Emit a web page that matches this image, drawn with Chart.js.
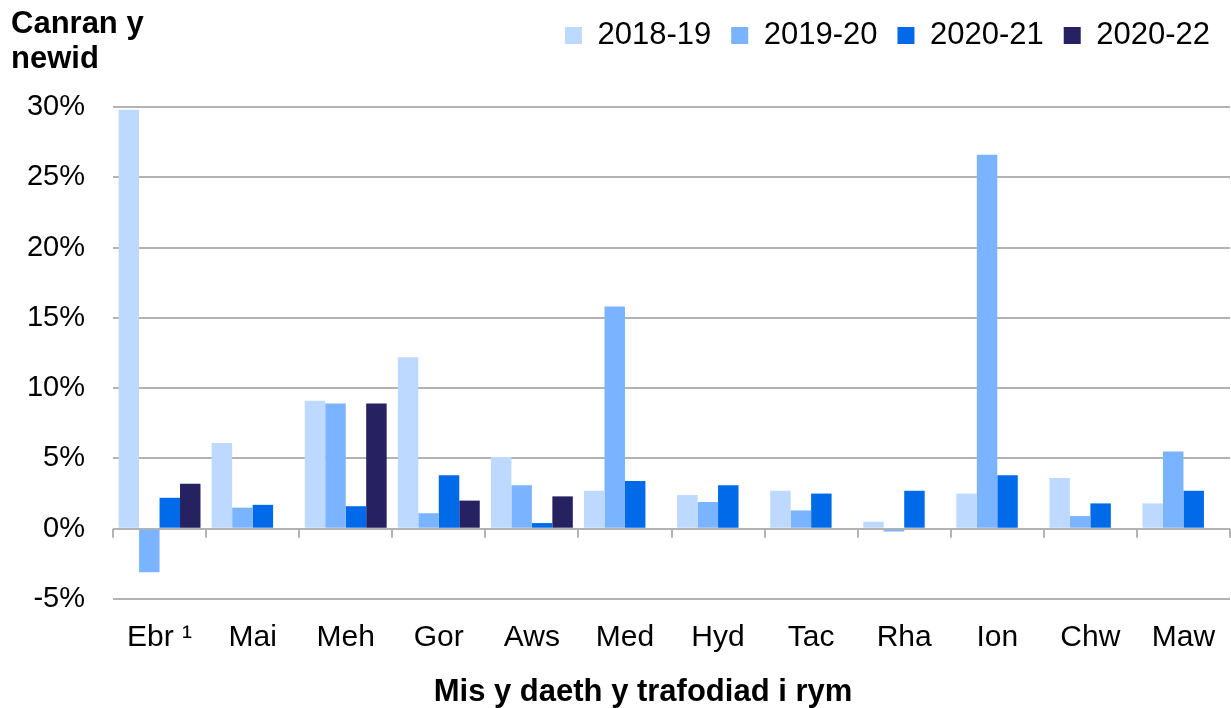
<!DOCTYPE html>
<html>
<head>
<meta charset="utf-8">
<script src="https://cdn.jsdelivr.net/npm/chart.js@4/dist/chart.umd.min.js"></script>
<style>
  html, body { margin: 0; padding: 0; background: #fff; }
  #wrap { width: 1231px; height: 708px; position: relative; }
</style>
</head>
<body>
<div id="wrap"><canvas id="myChart"></canvas></div>
<script>
// D O N N E E S
const months = ['Ebr \u00b9', 'Mai', 'Meh', 'Gor', 'Aws', 'Med', 'Hyd', 'Tac', 'Rha', 'Ion', 'Chw', 'Maw'];
const s2018_19 = [29.8, 6.1, 9.1, 12.2, 5.1, 2.7, 2.4, 2.7, 0.5, 2.5, 3.6, 1.8];
const s2019_20 = [-3.1, 1.5, 8.9, 1.1, 3.1, 15.8, 1.9, 1.3, -0.2, 26.6, 0.9, 5.5];
const s2020_21 = [2.2, 1.7, 1.6, 3.8, 0.4, 3.4, 3.1, 2.5, 2.7, 3.8, 1.8, 2.7];
const s2020_22 = [3.2, null, 8.9, 2.0, 2.3, null, null, null, null, null, null, null];
const seriesNames = ['2018-19', '2019-20', '2020-21', '2020-22'];
const yTicks = [-5, 0, 5, 10, 15, 20, 25, 30];
const xTitle = 'Mis y daeth y trafodiad i rym';

const colors = ['#bdd9ff', '#7ab3ff', '#006ae9', '#262262'];
const FONT = "'Liberation Sans', Arial, sans-serif";

Chart.defaults.font.family = FONT;
Chart.defaults.color = '#000';

// espace sous la legende
const legendGap = {
  id: 'legendGap',
  beforeInit(chart) {
    const fit = chart.legend.fit;
    chart.legend.fit = function () {
      fit.bind(chart.legend)();
      this.height += 46;
    };
  }
};

// titres des axes + petits traits sous la ligne zero
const extras = {
  id: 'extras',
  afterDraw(chart) {
    const ctx = chart.ctx;
    const x = chart.scales.x, y = chart.scales.y;
    ctx.save();
    ctx.fillStyle = '#000';
    ctx.font = 'bold 31px ' + FONT;
    ctx.textBaseline = 'alphabetic';
    ctx.textAlign = 'left';
    ctx.fillText('Canran y', 11, 33);
    ctx.fillText('newid', 11, 68);

    // titre X un peu decale a gauche, comme l'original
    ctx.textAlign = 'center';
    ctx.textBaseline = 'middle';
    ctx.fillText(xTitle, 643, x.bottom - 16);

    const y0 = y.getPixelForValue(0);
    const w = (x.right - x.left) / months.length;
    ctx.strokeStyle = '#b3b3b3';
    ctx.lineWidth = 2;
    for (let i = 0; i <= months.length; i++) {
      const px = Math.round(x.getPixelForValue(i) - w / 2);
      ctx.beginPath();
      ctx.moveTo(px, y0);
      ctx.lineTo(px, y0 + 9);
      ctx.stroke();
    }
    ctx.restore();
  }
};

new Chart(document.getElementById('myChart'), {
  type: 'bar',
  data: {
    labels: months,
    datasets: [s2018_19, s2019_20, s2020_21, s2020_22].map((d, i) => ({
      label: seriesNames[i],
      data: d,
      backgroundColor: colors[i],
      borderWidth: 0,
      barPercentage: 1.0,
      categoryPercentage: 0.88
    }))
  },
  options: {
    responsive: true,
    maintainAspectRatio: false,
    animation: false,
    layout: { padding: { left: 0, right: 1, top: 0, bottom: 0 } },
    plugins: {
      tooltip: { enabled: false },
      legend: {
        position: 'top',
        align: 'end',
        labels: {
          boxWidth: 17,
          boxHeight: 17,
          padding: 20,
          font: { size: 31 },
          color: '#000'
        }
      }
    },
    scales: {
      x: {
        grid: { display: false, drawTicks: false },
        border: { display: false },
        ticks: { font: { size: 30, lineHeight: 1 }, color: '#000', padding: 24, maxRotation: 0 },
        title: {
          display: true,
          text: xTitle,
          font: { size: 31, weight: 'bold', lineHeight: 1 },
          color: 'rgba(0,0,0,0)',           // place reservee, texte dessine par le plugin
          padding: { top: 0, bottom: 0 }
        },
        afterFit(axis) { axis.paddingLeft = 0; axis.paddingRight = 0; }
      },
      y: {
        min: -5,
        max: 30,
        afterBuildTicks(axis) { axis.ticks = yTicks.map(v => ({ value: v })); },
        grid: { color: '#b3b3b3', lineWidth: 2, drawTicks: false },
        border: { display: false },
        ticks: {
          font: { size: 29 },
          color: '#000',
          padding: 28,
          callback: v => v + '%'
        },
        afterFit(axis) { axis.width = 113; }
      }
    }
  },
  plugins: [legendGap, extras]
});
</script>
</body>
</html>
